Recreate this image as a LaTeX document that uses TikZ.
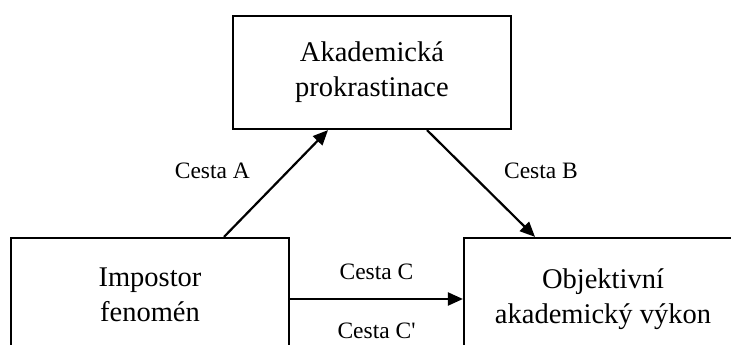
\documentclass[tikz,border=0pt]{standalone}
\usepackage{fontspec}
\setmainfont{Liberation Serif}
\usepackage{tikz}
\usetikzlibrary{arrows.meta}

\begin{document}
\begin{tikzpicture}
[x=1pt,y=-1pt,
  boxDecorate/.style={shape=rectangle,draw,line width=2.2pt,align=center,
    minimum width=278pt,font=\fontsize{28.5}{35}\selectfont},%
  lineDecorate/.style={-{Triangle[length=15pt,width=13pt]},line width=2.2pt},%
  labelDecorate/.style={inner sep=0pt,font=\fontsize{23.5}{28}\selectfont}]
\useasboundingbox (0,0) rectangle (731,345);
\clip (0,0) rectangle (731,345);
%% nodes or boxes
\foreach \nodename/\x/\y/\h/\txt in {akad/372/72.5/113/{Akademická\\prokrastinace},
    imp/150/295/114/{Impostor\\fenomén}, obj/603/299/122/{Objektivní\\akademický výkon}} {
  \node (\nodename) at (\x,\y) [boxDecorate,minimum height=\h pt] {\txt};
}
%% edges or paths
\path
  ([xshift=74pt]imp.north) edge[lineDecorate]
    node[labelDecorate,midway,anchor=east,xshift=-25pt,yshift=12.5pt] {Cesta A} ([xshift=-44pt]akad.south)
  ([xshift=55pt]akad.south) edge[lineDecorate]
    node[labelDecorate,midway,anchor=west,xshift=22pt,yshift=12.5pt] {Cesta B} ([xshift=-68pt]obj.north)
  (obj.west -| imp.east) edge[lineDecorate]
    node[labelDecorate,midway,above=18pt] {Cesta C}
    node[labelDecorate,midway,below=23pt] {Cesta C\textquotesingle} (obj.west);
\end{tikzpicture}
\end{document}
